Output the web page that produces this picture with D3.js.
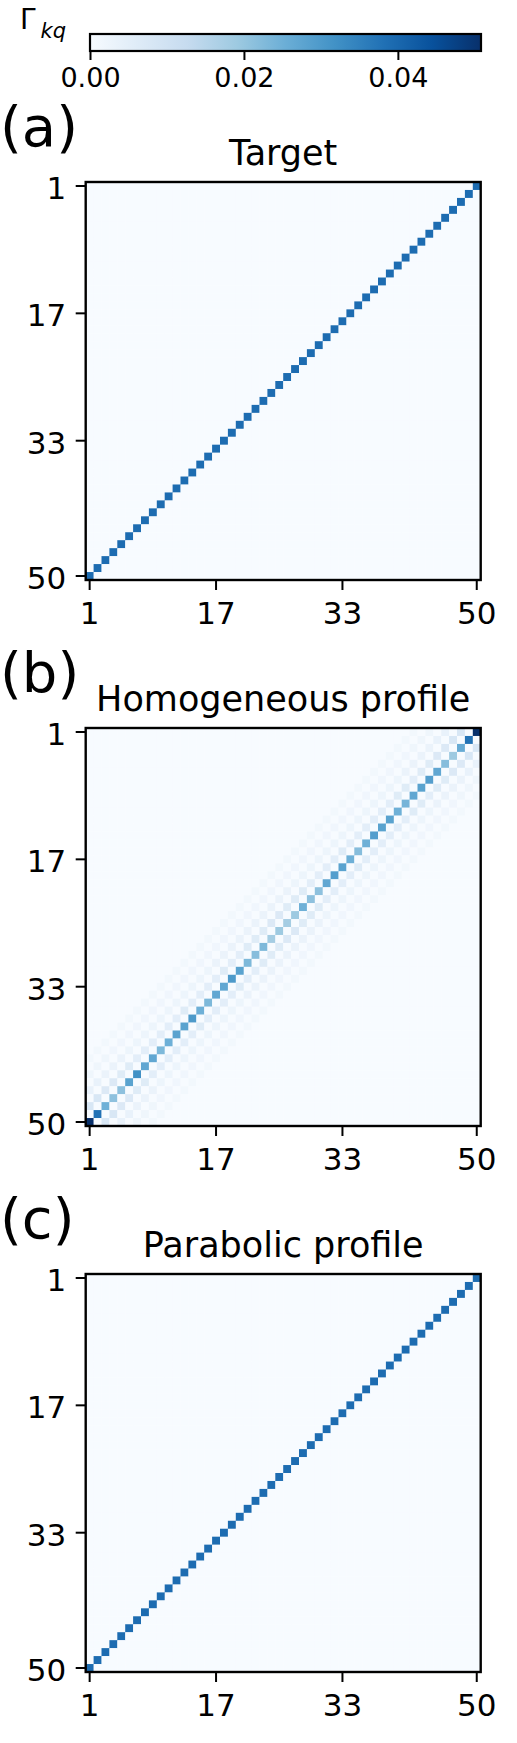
<!DOCTYPE html>
<html>
<head>
<meta charset="utf-8">
<script src="https://cdn.jsdelivr.net/npm/d3@7"></script>
<style>
  body { margin: 0; background: #fff; }
  svg { display: block; font-family: "DejaVu Sans", sans-serif; }
</style>
</head>
<body>
<div id="chart"></div>
<script>
// --- data ---
const N = 50;
const indices = d3.range(1, N + 1);
const tickValues = [1, 17, 33, 50];
const cbarTicks = [0, 0.02, 0.04];
const cbarMax = 0.0508;
const blues = ['#f7fbff', '#deebf7', '#c6dbef', '#9ecae1', '#6baed6',
	'#4292c6', '#2171b5', '#08519c', '#08306b'];

// anti-diagonal values, indexed by column 1..50
const targetDiag = [
	0.039, 0.039, 0.039, 0.039, 0.039, 0.039, 0.039, 0.039, 0.039, 0.039,
	0.039, 0.039, 0.039, 0.039, 0.039, 0.039, 0.039, 0.039, 0.039, 0.039,
	0.039, 0.039, 0.039, 0.039, 0.039, 0.039, 0.039, 0.039, 0.039, 0.039,
	0.039, 0.039, 0.039, 0.039, 0.039, 0.039, 0.039, 0.039, 0.039, 0.039,
	0.039, 0.039, 0.039, 0.039, 0.039, 0.039, 0.039, 0.039, 0.039, 0.039
];
const homDiag = [
	0.0508, 0.038, 0.025, 0.021, 0.021, 0.028, 0.032, 0.027, 0.027, 0.023,
	0.025, 0.028, 0.028, 0.030, 0.025, 0.023, 0.027, 0.027, 0.030, 0.028,
	0.023, 0.022, 0.023, 0.018, 0.019, 0.018, 0.019, 0.025, 0.021, 0.021,
	0.027, 0.029, 0.028, 0.025, 0.022, 0.025, 0.029, 0.028, 0.028, 0.025,
	0.024, 0.027, 0.028, 0.029, 0.027, 0.022, 0.019, 0.026, 0.038, 0.0508
];
// off-diagonal bands (k+q = 51 +/- d), indexed by column
const homBand2 = [
	0.008, 0.008, 0.007, 0.007, 0.006, 0.006, 0.005, 0.005, 0.005, 0.005,
	0.005, 0.005, 0.006, 0.005, 0.005, 0.005, 0.005, 0.006, 0.005, 0.005,
	0.006, 0.006, 0.006, 0.007, 0.007, 0.006, 0.006, 0.006, 0.005, 0.005,
	0.005, 0.005, 0.006, 0.005, 0.005, 0.005, 0.005, 0.005, 0.005, 0.006,
	0.006, 0.005, 0.006, 0.006, 0.007, 0.007, 0.008, 0.008
];
const homBand4 = [
	0.0035, 0.0035, 0.003, 0.003, 0.003, 0.0025, 0.0025, 0.0025, 0.0025, 0.0025,
	0.0025, 0.0025, 0.0025, 0.0025, 0.0025, 0.0025, 0.003, 0.003, 0.003, 0.003,
	0.003, 0.003, 0.003, 0.003, 0.003, 0.003, 0.0025, 0.0025, 0.0025, 0.0025,
	0.0025, 0.0025, 0.0025, 0.0025, 0.0025, 0.0025, 0.0025, 0.0025, 0.0025, 0.0025,
	0.003, 0.003, 0.003, 0.003, 0.0035, 0.0035
];
const homBand6 = [
	0.002, 0.002, 0.002, 0.0018, 0.0018, 0.0018, 0.0018, 0.0018, 0.0018, 0.0018,
	0.0018, 0.0018, 0.0018, 0.0018, 0.0018, 0.0018, 0.0018, 0.0018, 0.0018, 0.0018,
	0.0018, 0.0018, 0.0018, 0.0018, 0.0018, 0.0018, 0.0018, 0.0018, 0.0018, 0.0018,
	0.0018, 0.0018, 0.0018, 0.0018, 0.0018, 0.0018, 0.0018, 0.0018, 0.0018, 0.0018,
	0.0018, 0.002, 0.002, 0.002
];
const homBand8 = [
	0.0012, 0.0012, 0.0012, 0.0012, 0.0012, 0.0012, 0.0012, 0.0012, 0.0012, 0.0012,
	0.0012, 0.0012, 0.0012, 0.0012, 0.0012, 0.0012, 0.0012, 0.0012, 0.0012, 0.0012,
	0.0012, 0.0012, 0.0012, 0.0012, 0.0012, 0.0012, 0.0012, 0.0012, 0.0012, 0.0012,
	0.0012, 0.0012, 0.0012, 0.0012, 0.0012, 0.0012, 0.0012, 0.0012, 0.0012, 0.0012,
	0.0012, 0.0012
];
const parabDiag = [
	0.039, 0.039, 0.039, 0.039, 0.039, 0.039, 0.039, 0.039, 0.039, 0.039,
	0.039, 0.039, 0.039, 0.039, 0.039, 0.039, 0.039, 0.039, 0.039, 0.039,
	0.039, 0.039, 0.039, 0.039, 0.039, 0.039, 0.039, 0.039, 0.039, 0.039,
	0.039, 0.039, 0.039, 0.039, 0.039, 0.039, 0.039, 0.039, 0.039, 0.039,
	0.039, 0.039, 0.039, 0.039, 0.039, 0.039, 0.039, 0.039, 0.039, 0.039
];

const panels = [
	{ label: '(a)', title: 'Target', diag: targetDiag, bands: [] },
	{ label: '(b)', title: 'Homogeneous profile', diag: homDiag,
		bands: [[2, homBand2], [4, homBand4], [6, homBand6], [8, homBand8]] },
	{ label: '(c)', title: 'Parabolic profile', diag: parabDiag, bands: [] }
];

// --- layout ---
const W = 517, H = 1743;
const px0 = 85.7, pw = 395, ph = 398;
const tops = [182, 728, 1274];

const color = d3.scaleLinear()
	.domain(blues.map((c, i) => i / (blues.length - 1) * cbarMax))
	.range(blues)
	.clamp(true);

const svg = d3.select('#chart')
	.append('svg')
	.attr('width', W)
	.attr('height', H);

// build matrix cells: row r, col c
function buildCells (p) {
	const m = indices.map(() => indices.map(() => 0));
	p.diag.forEach((v, i) => {
		const c = i + 1;
		m[N - c][c - 1] = v; // row 51-c
	});
	p.bands.forEach(([d, vals]) => {
		vals.forEach((v, i) => {
			const c = i + 1;
			m[N - d - c][c - 1] = v;     // k+q = 51-d
			m[N - c][c + d - 1] = v;     // k+q = 51+d
		});
	});
	const cells = [];
	m.forEach((row, ri) => row.forEach((v, ci) => {
		cells.push({ r: ri + 1, c: ci + 1, v });
	}));
	return cells;
}

panels.forEach((p, pi) => {
	const top = tops[pi];
	const x = d3.scaleBand().domain(indices).range([px0, px0 + pw]);
	const y = d3.scaleBand().domain(indices).range([top, top + ph]);

	const g = svg.append('g');

	g.append('g')
		.selectAll('rect')
		.data(buildCells(p))
		.join('rect')
		.attr('x', (d) => x(d.c))
		.attr('y', (d) => y(d.r))
		.attr('width', x.bandwidth() + 0.3)
		.attr('height', y.bandwidth() + 0.3)
		.attr('fill', (d) => color(d.v));

	g.append('rect')
		.attr('x', px0)
		.attr('y', top)
		.attr('width', pw)
		.attr('height', ph)
		.attr('fill', 'none')
		.attr('stroke', '#000')
		.attr('stroke-width', 2.4);

	const yAxis = g.append('g')
		.attr('transform', `translate(${px0},0)`)
		.call(d3.axisLeft(y).tickValues(tickValues).tickSize(10).tickPadding(9.5));

	const xAxis = g.append('g')
		.attr('transform', `translate(0,${top + ph})`)
		.call(d3.axisBottom(x).tickValues(tickValues).tickSize(10).tickPadding(12));

	[yAxis, xAxis].forEach((a) => {
		a.select('.domain').remove();
		a.selectAll('line').attr('stroke', '#000').attr('stroke-width', 2);
		a.selectAll('text')
			.attr('fill', '#000')
			.style('font-family', '"DejaVu Sans", sans-serif')
			.style('font-size', '31px');
	});
	yAxis.selectAll('text').attr('dy', '0.42em');

	g.append('text')
		.attr('x', px0 + pw / 2)
		.attr('y', top - 17)
		.attr('text-anchor', 'middle')
		.style('font-size', '35px')
		.text(p.title);

	g.append('text')
		.attr('x', 0)
		.attr('y', top - 36)
		.style('font-size', '56px')
		.text(p.label);
});

// --- colorbar ---
const cb = { x0: 90, x1: 481, y0: 34, y1: 51 };
const cbScale = d3.scaleLinear().domain([0, cbarMax]).range([cb.x0, cb.x1]);

const grad = svg.append('defs')
	.append('linearGradient')
	.attr('id', 'bluesGrad')
	.attr('x1', '0%').attr('x2', '100%')
	.attr('y1', '0%').attr('y2', '0%');

grad.selectAll('stop')
	.data(blues)
	.join('stop')
	.attr('offset', (d, i) => `${i / (blues.length - 1) * 100}%`)
	.attr('stop-color', (d) => d);

svg.append('rect')
	.attr('x', cb.x0)
	.attr('y', cb.y0)
	.attr('width', cb.x1 - cb.x0)
	.attr('height', cb.y1 - cb.y0)
	.attr('fill', 'url(#bluesGrad)')
	.attr('stroke', '#000')
	.attr('stroke-width', 2.2);

const cbAxis = svg.append('g')
	.attr('transform', `translate(0,${cb.y1})`)
	.call(d3.axisBottom(cbScale).tickValues(cbarTicks).tickSize(9).tickPadding(8)
		.tickFormat(d3.format('.2f')));

cbAxis.select('.domain').remove();
cbAxis.selectAll('line').attr('stroke', '#000').attr('stroke-width', 2);
cbAxis.selectAll('text')
	.attr('fill', '#000')
	.style('font-family', '"DejaVu Sans", sans-serif')
	.style('font-size', '27px');

const lab = svg.append('text')
	.attr('x', 20)
	.attr('y', 29)
	.style('font-size', '28px');
lab.append('tspan').text('Γ');
lab.append('tspan')
	.attr('dx', 5)
	.attr('dy', 9)
	.style('font-size', '21px')
	.style('font-style', 'italic')
	.text('kq');
</script>
</body>
</html>
